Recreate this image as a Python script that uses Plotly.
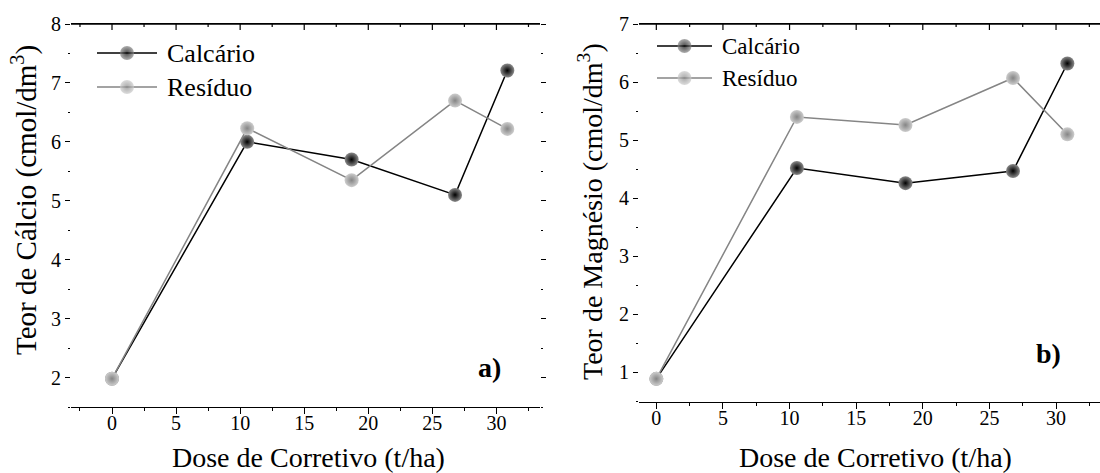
import numpy as np
import plotly.graph_objects as go

# Doses of corrective applied (t/ha)
dose = [0, 10.55, 18.7, 26.77, 30.85]

# Calcium content (cmol/dm3)
calcio_calcario = [1.98, 6.00, 5.70, 5.10, 7.21]
calcio_residuo = [1.98, 6.23, 5.35, 6.70, 6.22]

# Magnesium content (cmol/dm3)
magnesio_calcario = [0.89, 4.52, 4.26, 4.47, 6.32]
magnesio_residuo = [0.89, 5.40, 5.26, 6.07, 5.10]

series_names = ["Calcário", "Resíduo"]

SERIF = "Liberation Serif, Times New Roman, serif"
W, H = 1100, 473


def px_x(v):
    return v / W


def px_y(v):
    return 1 - v / H


def font(size):
    return dict(family=SERIF, size=size, color="#000000")


black_style = dict(
    line=dict(color="#000000", width=1.5),
    marker=dict(size=14, color="#8a8a8a", line=dict(width=0),
                gradient=dict(type="radial", color="#000000")),
)
grey_style = dict(
    line=dict(color="#858585", width=1.5),
    marker=dict(size=14, color="#cdcdcd", line=dict(width=0),
                gradient=dict(type="radial", color="#858585")),
)
styles = [black_style, grey_style]

fig = go.Figure()

# Panel a) calcium
for name, vals, st in zip(series_names, [calcio_calcario, calcio_residuo], styles):
    fig.add_trace(go.Scatter(x=dose, y=vals, mode="lines+markers", name=name,
                             xaxis="x", yaxis="y", showlegend=False, **st))

# Panel b) magnesium
for name, vals, st in zip(series_names, [magnesio_calcario, magnesio_residuo], styles):
    fig.add_trace(go.Scatter(x=dose, y=vals, mode="lines+markers", name=name,
                             xaxis="x2", yaxis="y2", showlegend=False, **st))

# In-plot legends drawn on a full-canvas pixel axis (x5/y5)
legend_boxes = [
    # (line start, line end, first row y, row step, text x, font size)
    (97, 157, 53, 34, 165, 26),
    (657, 712, 46, 32, 720, 23),
]
annotations = []
for (x0, x1, y0, step, tx, fs) in legend_boxes:
    for i, (name, st) in enumerate(zip(series_names, styles)):
        yy = y0 + i * step
        fig.add_trace(go.Scatter(
            x=[x0, (x0 + x1) / 2, x1], y=[yy, yy, yy], mode="lines+markers",
            xaxis="x5", yaxis="y5", showlegend=False, hoverinfo="skip",
            line=st["line"],
            marker=dict(st["marker"], size=[0, 14, 0]),
        ))
        annotations.append(dict(text=name, x=tx, y=yy, xref="x5", yref="y5",
                                xanchor="left", yanchor="middle", showarrow=False,
                                font=font(fs)))

bottom_x = dict(
    showline=True, linecolor="#000000", linewidth=1.3, mirror=True,
    ticks="outside", ticklen=6, tickwidth=1.2, tickcolor="#000000",
    tick0=0, dtick=5,
    minor=dict(ticks="outside", ticklen=3, tickwidth=1.2, tickcolor="#000000", dtick=2.5, tick0=0, showgrid=False),
    showgrid=False, zeroline=False, tickfont=font(20), ticklabelstandoff=-8, automargin=False,
)
left_y = dict(
    showline=False, ticks="outside", ticklen=5, tickwidth=1.2, tickcolor="#000000",
    dtick=1,
    minor=dict(ticks="outside", ticklen=2, tickwidth=1.2, tickcolor="#000000", dtick=0.5, showgrid=False),
    showgrid=False, zeroline=False, tickfont=font(20), ticklabelstandoff=0, automargin=False,
)

left_dom = [px_x(71), px_x(540)]
right_dom = [px_x(639), 1.0]
top_edge = px_y(24)
left_ydom = [px_y(407), top_edge]
right_ydom = [px_y(401.5), top_edge]
left_xrange = [-3.2, 33.4]
right_xrange = [-1.3, 33.3]

# Top frame line with inward ticks (paper coordinates, mapped from each panel's x range)
shapes = []
frame = dict(color="#000000", width=1.3)
tick_line = dict(color="#000000", width=1.2)
for dom, xrange_ in ((left_dom, left_xrange), (right_dom, right_xrange)):
    shapes.append(dict(type="line", xref="paper", yref="paper", layer="above",
                       x0=dom[0], x1=dom[1], y0=top_edge, y1=top_edge, line=frame))
    for v in np.arange(-2.5, xrange_[1], 2.5):
        if v < xrange_[0]:
            continue
        px = dom[0] + (v - xrange_[0]) / (xrange_[1] - xrange_[0]) * (dom[1] - dom[0])
        length = 6 if abs(v % 5) < 1e-9 else 3
        shapes.append(dict(type="line", xref="paper", yref="paper", layer="above",
                           x0=px, x1=px, y0=top_edge, y1=top_edge - length / H, line=tick_line))

ann = dict(xref="paper", yref="paper", showarrow=False, xanchor="center", yanchor="middle")
annotations += [
    dict(text="Dose de Corretivo (t/ha)", x=px_x(308), y=px_y(457), font=font(28), **ann),
    dict(text="Dose de Corretivo (t/ha)", x=px_x(875), y=px_y(457), font=font(28), **ann),
    dict(text="Teor de Cálcio (cmol/dm<sup>3</sup>)", x=px_x(24), y=px_y(200), textangle=-90,
         font=font(29), **ann),
    dict(text="Teor de Magnésio (cmol/dm<sup>3</sup>)", x=px_x(591), y=px_y(212), textangle=-90,
         font=font(28), **ann),
    dict(text="<b>a)</b>", x=px_x(489), y=px_y(367), font=font(28), **ann),
    dict(text="<b>b)</b>", x=px_x(1048), y=px_y(353), font=font(28), **ann),
]

fig.update_layout(
    width=W, height=H,
    margin=dict(l=0, r=0, t=0, b=0),
    paper_bgcolor="white", plot_bgcolor="rgba(0,0,0,0)",
    font=font(20),
    showlegend=False,
    xaxis=dict(domain=left_dom, range=left_xrange, anchor="y", **bottom_x),
    yaxis=dict(domain=left_ydom, range=[1.5, 8], anchor="x", mirror="ticks", **left_y),
    xaxis2=dict(domain=right_dom, range=right_xrange, anchor="y2", **bottom_x),
    yaxis2=dict(domain=right_ydom, range=[0.5, 7], anchor="x2", **left_y),
    xaxis5=dict(domain=[0, 1], range=[0, W], anchor="y5", visible=False, fixedrange=True),
    yaxis5=dict(domain=[0, 1], range=[H, 0], anchor="x5", visible=False, fixedrange=True),
    shapes=shapes,
    annotations=annotations,
)

fig.write_html("out.html")
